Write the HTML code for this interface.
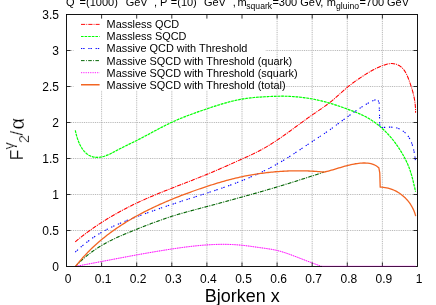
<!DOCTYPE html><html><head><meta charset="utf-8"><style>html,body{margin:0;padding:0;background:#fff;overflow:hidden}svg{display:block;will-change:transform}text{font-family:"Liberation Sans",sans-serif;fill:#000}</style></head><body>
<svg width="436" height="305" viewBox="0 0 436 305">
<rect width="436" height="305" fill="#fff"/>
<path d="M101.60,14.5V266.5 M136.70,14.5V266.5 M171.80,14.5V266.5 M206.90,14.5V266.5 M242.00,14.5V266.5 M277.10,14.5V266.5 M312.20,14.5V266.5 M347.30,14.5V266.5 M382.40,14.5V266.5 M66.5,230.50H417.5 M66.5,194.50H417.5 M66.5,158.50H417.5 M66.5,122.50H417.5 M66.5,86.50H417.5 M66.5,50.50H417.5" stroke="#f0f0f0" stroke-width="0.8" fill="none"/>
<path d="M101.60,14.5V266.5 M136.70,14.5V266.5 M171.80,14.5V266.5 M206.90,14.5V266.5 M242.00,14.5V266.5 M277.10,14.5V266.5 M312.20,14.5V266.5 M347.30,14.5V266.5 M382.40,14.5V266.5 M66.5,230.50H417.5 M66.5,194.50H417.5 M66.5,158.50H417.5 M66.5,122.50H417.5 M66.5,86.50H417.5 M66.5,50.50H417.5" stroke="#949494" stroke-width="0.75" stroke-dasharray="0.8 1.4" fill="none"/>
<rect x="73.5" y="15" width="192" height="75.5" fill="#fff"/>
<path d="M75.24,241.82 L76.40,240.86 L77.56,239.90 L78.72,238.95 L79.89,238.01 L81.07,237.08 L82.25,236.15 L83.44,235.23 L84.64,234.32 L85.84,233.41 L87.04,232.51 L88.25,231.62 L89.47,230.73 L90.69,229.86 L91.92,228.98 L93.15,228.12 L94.39,227.26 L95.63,226.41 L96.88,225.56 L98.13,224.73 L99.39,223.90 L100.65,223.07 L101.91,222.25 L103.18,221.44 L104.46,220.64 L105.74,219.84 L107.02,219.05 L108.31,218.26 L109.60,217.49 L110.90,216.71 L112.20,215.95 L113.50,215.19 L114.81,214.44 L116.12,213.69 L117.44,212.95 L118.76,212.22 L120.08,211.50 L121.41,210.78 L122.74,210.06 L124.07,209.36 L125.41,208.66 L126.75,207.96 L128.09,207.27 L129.43,206.59 L130.78,205.92 L132.13,205.25 L133.49,204.59 L134.85,203.93 L136.21,203.28 L137.57,202.64 L138.93,202.00 L140.30,201.37 L141.67,200.74 L143.04,200.12 L144.42,199.50 L145.80,198.89 L147.18,198.29 L148.56,197.69 L149.94,197.09 L151.32,196.50 L152.71,195.91 L154.10,195.33 L155.49,194.75 L156.88,194.17 L158.27,193.60 L159.66,193.03 L161.06,192.46 L162.45,191.90 L163.85,191.34 L165.25,190.78 L166.65,190.22 L168.05,189.67 L169.45,189.12 L170.85,188.57 L172.25,188.02 L173.66,187.47 L175.06,186.92 L176.46,186.38 L177.87,185.83 L179.27,185.29 L180.67,184.75 L182.08,184.20 L183.48,183.66 L184.88,183.12 L186.29,182.57 L187.69,182.03 L189.09,181.48 L190.49,180.93 L191.90,180.39 L193.30,179.84 L194.70,179.29 L196.10,178.74 L197.50,178.18 L198.89,177.63 L200.29,177.07 L201.69,176.51 L203.08,175.94 L204.47,175.38 L205.86,174.81 L207.25,174.24 L208.64,173.66 L210.03,173.08 L211.42,172.50 L212.80,171.91 L214.18,171.33 L215.57,170.74 L216.95,170.14 L218.33,169.55 L219.71,168.95 L221.09,168.35 L222.47,167.75 L223.84,167.14 L225.22,166.53 L226.60,165.93 L227.97,165.32 L229.35,164.71 L230.72,164.09 L232.10,163.48 L233.47,162.86 L234.85,162.25 L236.23,161.63 L237.60,161.01 L238.98,160.39 L240.35,159.77 L241.73,159.15 L243.11,158.53 L244.48,157.91 L245.86,157.28 L247.23,156.66 L248.61,156.02 L249.98,155.39 L251.34,154.75 L252.71,154.10 L254.07,153.45 L255.42,152.78 L256.77,152.11 L258.12,151.43 L259.45,150.74 L260.78,150.04 L262.11,149.32 L263.42,148.59 L264.73,147.85 L266.03,147.10 L267.32,146.34 L268.61,145.56 L269.89,144.78 L271.17,143.99 L272.43,143.18 L273.70,142.37 L274.96,141.55 L276.21,140.73 L277.46,139.89 L278.71,139.05 L279.95,138.20 L281.18,137.35 L282.42,136.49 L283.65,135.62 L284.88,134.75 L286.10,133.88 L287.32,133.00 L288.55,132.12 L289.77,131.23 L290.98,130.34 L292.20,129.45 L293.42,128.56 L294.63,127.67 L295.84,126.78 L297.06,125.88 L298.27,124.99 L299.49,124.09 L300.71,123.20 L301.92,122.31 L303.14,121.42 L304.36,120.53 L305.58,119.65 L306.81,118.77 L308.03,117.89 L309.26,117.01 L310.50,116.14 L311.73,115.28 L312.97,114.42 L314.21,113.56 L315.46,112.71 L316.70,111.86 L317.95,111.01 L319.19,110.16 L320.43,109.31 L321.67,108.45 L322.90,107.59 L324.13,106.72 L325.36,105.85 L326.57,104.96 L327.78,104.07 L328.98,103.16 L330.17,102.24 L331.34,101.31 L332.51,100.35 L333.66,99.39 L334.80,98.41 L335.93,97.42 L337.06,96.42 L338.18,95.41 L339.30,94.40 L340.42,93.39 L341.54,92.38 L342.67,91.38 L343.80,90.38 L344.93,89.38 L346.07,88.40 L347.23,87.43 L348.39,86.47 L349.57,85.53 L350.75,84.60 L351.95,83.69 L353.16,82.78 L354.37,81.90 L355.60,81.02 L356.83,80.15 L358.07,79.30 L359.31,78.45 L360.56,77.61 L361.82,76.79 L363.07,75.97 L364.34,75.16 L365.60,74.36 L366.88,73.57 L368.16,72.79 L369.44,72.02 L370.74,71.27 L372.05,70.53 L373.37,69.81 L374.70,69.11 L376.05,68.44 L377.42,67.78 L378.80,67.15 L380.21,66.54 L381.64,65.96 L383.08,65.41 L384.55,64.89 L386.04,64.44 L387.54,64.06 L389.04,63.77 L390.54,63.59 L392.03,63.55 L393.51,63.65 L394.98,63.91 L396.41,64.32 L397.79,64.87 L399.12,65.55 L400.37,66.36 L401.54,67.28 L402.61,68.31 L403.58,69.44 L404.48,70.64 L405.30,71.92 L406.05,73.26 L406.74,74.65 L407.38,76.08 L407.99,77.53 L408.56,78.99 L409.10,80.46 L409.63,81.92 L410.14,83.37 L410.64,84.82 L411.11,86.26 L411.57,87.69 L412.01,89.12 L412.43,90.55 L412.82,91.98 L413.19,93.42 L413.54,94.85 L413.87,96.29 L414.17,97.73 L414.44,99.18 L414.69,100.64 L414.91,102.11 L415.10,103.59 L415.26,105.08 L415.38,106.59 L415.48,108.11 L415.54,109.65 L415.58,111.20 L415.57,112.78" stroke="#ff0000" stroke-opacity="0.15" stroke-width="0.95" fill="none" stroke-linejoin="round"/>
<path d="M75.24,241.82 L76.40,240.86 L77.56,239.90 L78.72,238.95 L79.89,238.01 L81.07,237.08 L82.25,236.15 L83.44,235.23 L84.64,234.32 L85.84,233.41 L87.04,232.51 L88.25,231.62 L89.47,230.73 L90.69,229.86 L91.92,228.98 L93.15,228.12 L94.39,227.26 L95.63,226.41 L96.88,225.56 L98.13,224.73 L99.39,223.90 L100.65,223.07 L101.91,222.25 L103.18,221.44 L104.46,220.64 L105.74,219.84 L107.02,219.05 L108.31,218.26 L109.60,217.49 L110.90,216.71 L112.20,215.95 L113.50,215.19 L114.81,214.44 L116.12,213.69 L117.44,212.95 L118.76,212.22 L120.08,211.50 L121.41,210.78 L122.74,210.06 L124.07,209.36 L125.41,208.66 L126.75,207.96 L128.09,207.27 L129.43,206.59 L130.78,205.92 L132.13,205.25 L133.49,204.59 L134.85,203.93 L136.21,203.28 L137.57,202.64 L138.93,202.00 L140.30,201.37 L141.67,200.74 L143.04,200.12 L144.42,199.50 L145.80,198.89 L147.18,198.29 L148.56,197.69 L149.94,197.09 L151.32,196.50 L152.71,195.91 L154.10,195.33 L155.49,194.75 L156.88,194.17 L158.27,193.60 L159.66,193.03 L161.06,192.46 L162.45,191.90 L163.85,191.34 L165.25,190.78 L166.65,190.22 L168.05,189.67 L169.45,189.12 L170.85,188.57 L172.25,188.02 L173.66,187.47 L175.06,186.92 L176.46,186.38 L177.87,185.83 L179.27,185.29 L180.67,184.75 L182.08,184.20 L183.48,183.66 L184.88,183.12 L186.29,182.57 L187.69,182.03 L189.09,181.48 L190.49,180.93 L191.90,180.39 L193.30,179.84 L194.70,179.29 L196.10,178.74 L197.50,178.18 L198.89,177.63 L200.29,177.07 L201.69,176.51 L203.08,175.94 L204.47,175.38 L205.86,174.81 L207.25,174.24 L208.64,173.66 L210.03,173.08 L211.42,172.50 L212.80,171.91 L214.18,171.33 L215.57,170.74 L216.95,170.14 L218.33,169.55 L219.71,168.95 L221.09,168.35 L222.47,167.75 L223.84,167.14 L225.22,166.53 L226.60,165.93 L227.97,165.32 L229.35,164.71 L230.72,164.09 L232.10,163.48 L233.47,162.86 L234.85,162.25 L236.23,161.63 L237.60,161.01 L238.98,160.39 L240.35,159.77 L241.73,159.15 L243.11,158.53 L244.48,157.91 L245.86,157.28 L247.23,156.66 L248.61,156.02 L249.98,155.39 L251.34,154.75 L252.71,154.10 L254.07,153.45 L255.42,152.78 L256.77,152.11 L258.12,151.43 L259.45,150.74 L260.78,150.04 L262.11,149.32 L263.42,148.59 L264.73,147.85 L266.03,147.10 L267.32,146.34 L268.61,145.56 L269.89,144.78 L271.17,143.99 L272.43,143.18 L273.70,142.37 L274.96,141.55 L276.21,140.73 L277.46,139.89 L278.71,139.05 L279.95,138.20 L281.18,137.35 L282.42,136.49 L283.65,135.62 L284.88,134.75 L286.10,133.88 L287.32,133.00 L288.55,132.12 L289.77,131.23 L290.98,130.34 L292.20,129.45 L293.42,128.56 L294.63,127.67 L295.84,126.78 L297.06,125.88 L298.27,124.99 L299.49,124.09 L300.71,123.20 L301.92,122.31 L303.14,121.42 L304.36,120.53 L305.58,119.65 L306.81,118.77 L308.03,117.89 L309.26,117.01 L310.50,116.14 L311.73,115.28 L312.97,114.42 L314.21,113.56 L315.46,112.71 L316.70,111.86 L317.95,111.01 L319.19,110.16 L320.43,109.31 L321.67,108.45 L322.90,107.59 L324.13,106.72 L325.36,105.85 L326.57,104.96 L327.78,104.07 L328.98,103.16 L330.17,102.24 L331.34,101.31 L332.51,100.35 L333.66,99.39 L334.80,98.41 L335.93,97.42 L337.06,96.42 L338.18,95.41 L339.30,94.40 L340.42,93.39 L341.54,92.38 L342.67,91.38 L343.80,90.38 L344.93,89.38 L346.07,88.40 L347.23,87.43 L348.39,86.47 L349.57,85.53 L350.75,84.60 L351.95,83.69 L353.16,82.78 L354.37,81.90 L355.60,81.02 L356.83,80.15 L358.07,79.30 L359.31,78.45 L360.56,77.61 L361.82,76.79 L363.07,75.97 L364.34,75.16 L365.60,74.36 L366.88,73.57 L368.16,72.79 L369.44,72.02 L370.74,71.27 L372.05,70.53 L373.37,69.81 L374.70,69.11 L376.05,68.44 L377.42,67.78 L378.80,67.15 L380.21,66.54 L381.64,65.96 L383.08,65.41 L384.55,64.89 L386.04,64.44 L387.54,64.06 L389.04,63.77 L390.54,63.59 L392.03,63.55 L393.51,63.65 L394.98,63.91 L396.41,64.32 L397.79,64.87 L399.12,65.55 L400.37,66.36 L401.54,67.28 L402.61,68.31 L403.58,69.44 L404.48,70.64 L405.30,71.92 L406.05,73.26 L406.74,74.65 L407.38,76.08 L407.99,77.53 L408.56,78.99 L409.10,80.46 L409.63,81.92 L410.14,83.37 L410.64,84.82 L411.11,86.26 L411.57,87.69 L412.01,89.12 L412.43,90.55 L412.82,91.98 L413.19,93.42 L413.54,94.85 L413.87,96.29 L414.17,97.73 L414.44,99.18 L414.69,100.64 L414.91,102.11 L415.10,103.59 L415.26,105.08 L415.38,106.59 L415.48,108.11 L415.54,109.65 L415.58,111.20 L415.57,112.78" stroke="#ff0000" stroke-width="1.05" fill="none" stroke-linejoin="round" stroke-dasharray="4.2 1.1 0.9 1.1"/>
<path d="M75.29,130.41 L75.56,131.66 L75.87,132.97 L76.21,134.34 L76.60,135.77 L77.04,137.22 L77.52,138.71 L78.05,140.20 L78.63,141.70 L79.26,143.19 L79.94,144.67 L80.68,146.11 L81.48,147.50 L82.34,148.85 L83.25,150.13 L84.23,151.34 L85.28,152.46 L86.39,153.48 L87.57,154.39 L88.83,155.19 L90.14,155.86 L91.50,156.41 L92.89,156.83 L94.31,157.14 L95.74,157.32 L97.17,157.38 L98.60,157.33 L100.03,157.18 L101.47,156.93 L102.90,156.60 L104.33,156.18 L105.75,155.70 L107.18,155.16 L108.60,154.56 L110.02,153.92 L111.43,153.24 L112.84,152.53 L114.24,151.80 L115.64,151.06 L117.03,150.32 L118.41,149.58 L119.79,148.86 L121.15,148.15 L122.52,147.45 L123.87,146.77 L125.22,146.10 L126.56,145.44 L127.90,144.79 L129.23,144.14 L130.56,143.49 L131.89,142.84 L133.22,142.20 L134.54,141.55 L135.86,140.89 L137.19,140.23 L138.51,139.56 L139.83,138.88 L141.15,138.19 L142.48,137.50 L143.80,136.80 L145.12,136.10 L146.45,135.39 L147.78,134.68 L149.10,133.97 L150.43,133.25 L151.76,132.54 L153.10,131.82 L154.43,131.11 L155.77,130.40 L157.10,129.68 L158.44,128.97 L159.79,128.27 L161.13,127.57 L162.48,126.87 L163.83,126.18 L165.18,125.50 L166.54,124.82 L167.90,124.15 L169.26,123.49 L170.62,122.84 L171.99,122.20 L173.37,121.57 L174.74,120.95 L176.12,120.34 L177.51,119.74 L178.90,119.15 L180.29,118.57 L181.68,118.00 L183.08,117.44 L184.47,116.88 L185.88,116.33 L187.28,115.79 L188.69,115.25 L190.10,114.72 L191.51,114.20 L192.92,113.68 L194.34,113.17 L195.76,112.66 L197.18,112.16 L198.60,111.66 L200.02,111.16 L201.45,110.67 L202.87,110.18 L204.30,109.70 L205.73,109.21 L207.16,108.73 L208.59,108.25 L210.02,107.77 L211.45,107.29 L212.89,106.82 L214.32,106.35 L215.76,105.89 L217.20,105.43 L218.64,104.98 L220.08,104.53 L221.53,104.09 L222.97,103.66 L224.42,103.24 L225.87,102.83 L227.33,102.43 L228.78,102.04 L230.24,101.66 L231.70,101.29 L233.16,100.94 L234.63,100.59 L236.10,100.27 L237.57,99.95 L239.04,99.66 L240.52,99.38 L242.00,99.11 L243.49,98.86 L244.98,98.63 L246.47,98.42 L247.96,98.22 L249.46,98.03 L250.96,97.86 L252.46,97.70 L253.96,97.55 L255.46,97.41 L256.96,97.28 L258.47,97.17 L259.98,97.06 L261.48,96.96 L262.99,96.87 L264.49,96.78 L266.00,96.70 L267.51,96.62 L269.01,96.55 L270.51,96.48 L272.02,96.42 L273.52,96.36 L275.02,96.31 L276.52,96.26 L278.02,96.22 L279.52,96.20 L281.03,96.19 L282.53,96.19 L284.04,96.20 L285.54,96.23 L287.05,96.27 L288.55,96.33 L290.06,96.40 L291.57,96.48 L293.07,96.57 L294.58,96.68 L296.08,96.81 L297.59,96.94 L299.09,97.09 L300.59,97.25 L302.09,97.43 L303.59,97.62 L305.09,97.82 L306.59,98.04 L308.08,98.26 L309.57,98.51 L311.06,98.76 L312.55,99.03 L314.03,99.31 L315.51,99.61 L316.99,99.92 L318.47,100.24 L319.94,100.57 L321.41,100.92 L322.87,101.28 L324.33,101.65 L325.78,102.04 L327.24,102.44 L328.68,102.85 L330.12,103.28 L331.56,103.72 L332.99,104.16 L334.42,104.62 L335.85,105.09 L337.27,105.57 L338.69,106.06 L340.12,106.55 L341.53,107.05 L342.95,107.55 L344.37,108.06 L345.79,108.57 L347.21,109.08 L348.63,109.59 L350.05,110.11 L351.48,110.63 L352.89,111.15 L354.31,111.69 L355.72,112.24 L357.12,112.80 L358.52,113.38 L359.91,113.97 L361.29,114.59 L362.65,115.23 L364.01,115.89 L365.35,116.58 L366.67,117.29 L367.98,118.03 L369.28,118.79 L370.56,119.58 L371.83,120.39 L373.08,121.23 L374.32,122.09 L375.54,122.97 L376.74,123.87 L377.93,124.80 L379.10,125.74 L380.26,126.71 L381.40,127.70 L382.52,128.70 L383.63,129.73 L384.72,130.77 L385.79,131.84 L386.84,132.92 L387.88,134.02 L388.90,135.13 L389.91,136.26 L390.89,137.41 L391.86,138.57 L392.82,139.74 L393.75,140.93 L394.67,142.13 L395.58,143.35 L396.46,144.58 L397.33,145.81 L398.18,147.06 L399.02,148.32 L399.84,149.59 L400.64,150.87 L401.43,152.16 L402.19,153.46 L402.95,154.76 L403.68,156.07 L404.40,157.39 L405.10,158.71 L405.78,160.05 L406.44,161.39 L407.07,162.75 L407.68,164.12 L408.26,165.50 L408.81,166.89 L409.34,168.30 L409.85,169.72 L410.33,171.15 L410.79,172.59 L411.23,174.03 L411.66,175.49 L412.06,176.95 L412.45,178.41 L412.83,179.88 L413.20,181.35 L413.56,182.82 L413.90,184.29 L414.24,185.77 L414.58,187.24 L414.91,188.70 L415.24,190.16 L415.57,191.62" stroke="#00ff00" stroke-opacity="0.25" stroke-width="1.03" fill="none" stroke-linejoin="round"/>
<path d="M75.29,130.41 L75.56,131.66 L75.87,132.97 L76.21,134.34 L76.60,135.77 L77.04,137.22 L77.52,138.71 L78.05,140.20 L78.63,141.70 L79.26,143.19 L79.94,144.67 L80.68,146.11 L81.48,147.50 L82.34,148.85 L83.25,150.13 L84.23,151.34 L85.28,152.46 L86.39,153.48 L87.57,154.39 L88.83,155.19 L90.14,155.86 L91.50,156.41 L92.89,156.83 L94.31,157.14 L95.74,157.32 L97.17,157.38 L98.60,157.33 L100.03,157.18 L101.47,156.93 L102.90,156.60 L104.33,156.18 L105.75,155.70 L107.18,155.16 L108.60,154.56 L110.02,153.92 L111.43,153.24 L112.84,152.53 L114.24,151.80 L115.64,151.06 L117.03,150.32 L118.41,149.58 L119.79,148.86 L121.15,148.15 L122.52,147.45 L123.87,146.77 L125.22,146.10 L126.56,145.44 L127.90,144.79 L129.23,144.14 L130.56,143.49 L131.89,142.84 L133.22,142.20 L134.54,141.55 L135.86,140.89 L137.19,140.23 L138.51,139.56 L139.83,138.88 L141.15,138.19 L142.48,137.50 L143.80,136.80 L145.12,136.10 L146.45,135.39 L147.78,134.68 L149.10,133.97 L150.43,133.25 L151.76,132.54 L153.10,131.82 L154.43,131.11 L155.77,130.40 L157.10,129.68 L158.44,128.97 L159.79,128.27 L161.13,127.57 L162.48,126.87 L163.83,126.18 L165.18,125.50 L166.54,124.82 L167.90,124.15 L169.26,123.49 L170.62,122.84 L171.99,122.20 L173.37,121.57 L174.74,120.95 L176.12,120.34 L177.51,119.74 L178.90,119.15 L180.29,118.57 L181.68,118.00 L183.08,117.44 L184.47,116.88 L185.88,116.33 L187.28,115.79 L188.69,115.25 L190.10,114.72 L191.51,114.20 L192.92,113.68 L194.34,113.17 L195.76,112.66 L197.18,112.16 L198.60,111.66 L200.02,111.16 L201.45,110.67 L202.87,110.18 L204.30,109.70 L205.73,109.21 L207.16,108.73 L208.59,108.25 L210.02,107.77 L211.45,107.29 L212.89,106.82 L214.32,106.35 L215.76,105.89 L217.20,105.43 L218.64,104.98 L220.08,104.53 L221.53,104.09 L222.97,103.66 L224.42,103.24 L225.87,102.83 L227.33,102.43 L228.78,102.04 L230.24,101.66 L231.70,101.29 L233.16,100.94 L234.63,100.59 L236.10,100.27 L237.57,99.95 L239.04,99.66 L240.52,99.38 L242.00,99.11 L243.49,98.86 L244.98,98.63 L246.47,98.42 L247.96,98.22 L249.46,98.03 L250.96,97.86 L252.46,97.70 L253.96,97.55 L255.46,97.41 L256.96,97.28 L258.47,97.17 L259.98,97.06 L261.48,96.96 L262.99,96.87 L264.49,96.78 L266.00,96.70 L267.51,96.62 L269.01,96.55 L270.51,96.48 L272.02,96.42 L273.52,96.36 L275.02,96.31 L276.52,96.26 L278.02,96.22 L279.52,96.20 L281.03,96.19 L282.53,96.19 L284.04,96.20 L285.54,96.23 L287.05,96.27 L288.55,96.33 L290.06,96.40 L291.57,96.48 L293.07,96.57 L294.58,96.68 L296.08,96.81 L297.59,96.94 L299.09,97.09 L300.59,97.25 L302.09,97.43 L303.59,97.62 L305.09,97.82 L306.59,98.04 L308.08,98.26 L309.57,98.51 L311.06,98.76 L312.55,99.03 L314.03,99.31 L315.51,99.61 L316.99,99.92 L318.47,100.24 L319.94,100.57 L321.41,100.92 L322.87,101.28 L324.33,101.65 L325.78,102.04 L327.24,102.44 L328.68,102.85 L330.12,103.28 L331.56,103.72 L332.99,104.16 L334.42,104.62 L335.85,105.09 L337.27,105.57 L338.69,106.06 L340.12,106.55 L341.53,107.05 L342.95,107.55 L344.37,108.06 L345.79,108.57 L347.21,109.08 L348.63,109.59 L350.05,110.11 L351.48,110.63 L352.89,111.15 L354.31,111.69 L355.72,112.24 L357.12,112.80 L358.52,113.38 L359.91,113.97 L361.29,114.59 L362.65,115.23 L364.01,115.89 L365.35,116.58 L366.67,117.29 L367.98,118.03 L369.28,118.79 L370.56,119.58 L371.83,120.39 L373.08,121.23 L374.32,122.09 L375.54,122.97 L376.74,123.87 L377.93,124.80 L379.10,125.74 L380.26,126.71 L381.40,127.70 L382.52,128.70 L383.63,129.73 L384.72,130.77 L385.79,131.84 L386.84,132.92 L387.88,134.02 L388.90,135.13 L389.91,136.26 L390.89,137.41 L391.86,138.57 L392.82,139.74 L393.75,140.93 L394.67,142.13 L395.58,143.35 L396.46,144.58 L397.33,145.81 L398.18,147.06 L399.02,148.32 L399.84,149.59 L400.64,150.87 L401.43,152.16 L402.19,153.46 L402.95,154.76 L403.68,156.07 L404.40,157.39 L405.10,158.71 L405.78,160.05 L406.44,161.39 L407.07,162.75 L407.68,164.12 L408.26,165.50 L408.81,166.89 L409.34,168.30 L409.85,169.72 L410.33,171.15 L410.79,172.59 L411.23,174.03 L411.66,175.49 L412.06,176.95 L412.45,178.41 L412.83,179.88 L413.20,181.35 L413.56,182.82 L413.90,184.29 L414.24,185.77 L414.58,187.24 L414.91,188.70 L415.24,190.16 L415.57,191.62" stroke="#00ff00" stroke-width="1.15" fill="none" stroke-linejoin="round" stroke-dasharray="2.6 1"/>
<path d="M75.28,252.10 L76.38,251.06 L77.49,250.03 L78.61,249.02 L79.75,248.02 L80.89,247.02 L82.04,246.04 L83.21,245.08 L84.38,244.12 L85.56,243.18 L86.76,242.26 L87.96,241.34 L89.17,240.44 L90.40,239.55 L91.63,238.68 L92.87,237.82 L94.12,236.97 L95.38,236.14 L96.65,235.33 L97.93,234.52 L99.21,233.74 L100.51,232.96 L101.82,232.21 L103.13,231.46 L104.45,230.73 L105.79,230.02 L107.12,229.32 L108.47,228.63 L109.82,227.96 L111.18,227.29 L112.55,226.64 L113.92,226.00 L115.30,225.37 L116.68,224.75 L118.07,224.14 L119.47,223.54 L120.86,222.95 L122.26,222.36 L123.67,221.79 L125.07,221.22 L126.49,220.66 L127.90,220.10 L129.31,219.55 L130.73,219.00 L132.15,218.46 L133.56,217.92 L134.98,217.39 L136.40,216.86 L137.82,216.33 L139.24,215.81 L140.66,215.28 L142.08,214.76 L143.49,214.24 L144.91,213.73 L146.33,213.22 L147.75,212.70 L149.17,212.20 L150.59,211.69 L152.01,211.19 L153.43,210.68 L154.85,210.19 L156.27,209.69 L157.69,209.19 L159.11,208.70 L160.54,208.21 L161.96,207.72 L163.39,207.24 L164.81,206.75 L166.24,206.27 L167.67,205.79 L169.10,205.31 L170.53,204.83 L171.96,204.36 L173.39,203.89 L174.82,203.42 L176.26,202.95 L177.70,202.48 L179.13,202.02 L180.57,201.55 L182.01,201.09 L183.45,200.63 L184.89,200.16 L186.33,199.70 L187.78,199.24 L189.22,198.78 L190.66,198.32 L192.10,197.86 L193.55,197.40 L194.99,196.94 L196.43,196.48 L197.88,196.02 L199.32,195.55 L200.76,195.09 L202.21,194.62 L203.65,194.16 L205.09,193.69 L206.53,193.22 L207.97,192.75 L209.42,192.28 L210.85,191.80 L212.29,191.33 L213.73,190.85 L215.17,190.37 L216.61,189.88 L218.04,189.40 L219.47,188.91 L220.91,188.42 L222.34,187.92 L223.77,187.42 L225.20,186.92 L226.62,186.41 L228.05,185.90 L229.47,185.39 L230.89,184.87 L232.31,184.35 L233.73,183.82 L235.15,183.29 L236.56,182.76 L237.97,182.22 L239.38,181.67 L240.79,181.12 L242.19,180.57 L243.59,180.00 L244.99,179.44 L246.39,178.87 L247.78,178.29 L249.17,177.70 L250.56,177.11 L251.94,176.51 L253.33,175.91 L254.70,175.30 L256.08,174.68 L257.45,174.06 L258.82,173.43 L260.18,172.79 L261.55,172.15 L262.90,171.49 L264.26,170.83 L265.61,170.16 L266.96,169.49 L268.30,168.80 L269.64,168.11 L270.97,167.41 L272.30,166.70 L273.63,165.98 L274.95,165.25 L276.27,164.51 L277.58,163.77 L278.89,163.01 L280.19,162.25 L281.49,161.47 L282.79,160.69 L284.08,159.91 L285.37,159.11 L286.66,158.31 L287.94,157.51 L289.22,156.70 L290.50,155.88 L291.77,155.06 L293.04,154.23 L294.31,153.40 L295.58,152.57 L296.85,151.74 L298.11,150.90 L299.38,150.06 L300.64,149.22 L301.90,148.38 L303.16,147.54 L304.42,146.70 L305.68,145.86 L306.94,145.02 L308.20,144.18 L309.46,143.34 L310.72,142.50 L311.98,141.67 L313.24,140.84 L314.51,140.01 L315.77,139.19 L317.03,138.36 L318.29,137.54 L319.55,136.71 L320.81,135.89 L322.07,135.06 L323.32,134.22 L324.57,133.39 L325.82,132.54 L327.07,131.69 L328.31,130.84 L329.55,129.97 L330.78,129.10 L332.01,128.23 L333.24,127.34 L334.46,126.45 L335.68,125.56 L336.90,124.67 L338.12,123.77 L339.33,122.87 L340.55,121.96 L341.77,121.06 L342.98,120.16 L344.20,119.25 L345.42,118.35 L346.64,117.46 L347.86,116.56 L349.08,115.67 L350.31,114.78 L351.54,113.90 L352.77,113.02 L354.01,112.15 L355.25,111.29 L356.50,110.43 L357.75,109.58 L359.01,108.75 L360.27,107.92 L361.54,107.10 L362.82,106.30 L364.10,105.51 L365.39,104.73 L366.69,103.97 L368.01,103.23 L369.34,102.52 L370.68,101.83 L372.04,101.19 L373.42,100.58 L374.82,100.01 L376.25,99.48 L377.70,99.01 L377.70,99.03 L379.17,103.06 L379.17,103.06 L379.87,127.54 L379.87,127.60 L381.35,127.56 L382.88,127.48 L384.44,127.38 L386.03,127.29 L387.63,127.20 L389.24,127.16 L390.84,127.16 L392.44,127.23 L394.01,127.40 L395.55,127.66 L397.05,128.05 L398.51,128.55 L399.92,129.17 L401.28,129.89 L402.58,130.71 L403.82,131.63 L404.99,132.63 L406.09,133.71 L407.12,134.86 L408.06,136.08 L408.93,137.36 L409.71,138.70 L410.43,140.08 L411.08,141.51 L411.67,142.98 L412.21,144.47 L412.69,146.00 L413.12,147.54 L413.51,149.09 L413.86,150.66 L414.17,152.22 L414.46,153.78 L414.71,155.33 L414.95,156.87 L415.17,158.38 L415.38,159.87 L415.59,161.32" stroke="#0000ff" stroke-width="1.1" fill="none" stroke-linejoin="round" stroke-dasharray="1.3 0.9 1.4 3.7"/>
<path d="M75.34,266.62 L76.40,265.50 L77.46,264.40 L78.54,263.31 L79.63,262.24 L80.73,261.18 L81.84,260.14 L82.97,259.12 L84.10,258.11 L85.25,257.12 L86.41,256.14 L87.59,255.19 L88.77,254.24 L89.97,253.32 L91.17,252.41 L92.39,251.51 L93.62,250.63 L94.86,249.77 L96.11,248.93 L97.37,248.10 L98.64,247.29 L99.92,246.49 L101.21,245.71 L102.51,244.94 L103.82,244.19 L105.13,243.45 L106.46,242.73 L107.79,242.02 L109.13,241.32 L110.48,240.63 L111.84,239.96 L113.20,239.29 L114.57,238.64 L115.94,238.00 L117.32,237.36 L118.70,236.73 L120.09,236.12 L121.49,235.51 L122.88,234.90 L124.28,234.31 L125.69,233.72 L127.09,233.13 L128.50,232.55 L129.91,231.97 L131.33,231.40 L132.74,230.83 L134.15,230.26 L135.57,229.70 L136.98,229.14 L138.40,228.57 L139.82,228.01 L141.23,227.45 L142.65,226.90 L144.06,226.34 L145.48,225.79 L146.90,225.24 L148.31,224.69 L149.73,224.15 L151.15,223.61 L152.57,223.07 L153.99,222.54 L155.41,222.01 L156.84,221.48 L158.26,220.96 L159.69,220.45 L161.11,219.94 L162.54,219.43 L163.97,218.94 L165.40,218.44 L166.84,217.96 L168.27,217.48 L169.71,217.00 L171.15,216.54 L172.59,216.08 L174.04,215.63 L175.48,215.18 L176.93,214.74 L178.38,214.31 L179.84,213.88 L181.29,213.46 L182.74,213.04 L184.20,212.63 L185.66,212.22 L187.12,211.82 L188.58,211.42 L190.04,211.02 L191.51,210.63 L192.97,210.23 L194.43,209.84 L195.90,209.46 L197.36,209.07 L198.83,208.68 L200.30,208.30 L201.76,207.91 L203.23,207.53 L204.70,207.14 L206.16,206.76 L207.63,206.37 L209.10,205.98 L210.56,205.59 L212.03,205.20 L213.49,204.81 L214.96,204.42 L216.42,204.02 L217.89,203.63 L219.35,203.23 L220.82,202.83 L222.28,202.44 L223.74,202.04 L225.21,201.64 L226.67,201.24 L228.13,200.83 L229.60,200.43 L231.06,200.03 L232.52,199.63 L233.98,199.22 L235.45,198.82 L236.91,198.41 L238.37,198.01 L239.83,197.60 L241.29,197.20 L242.75,196.79 L244.22,196.38 L245.68,195.98 L247.14,195.57 L248.60,195.16 L250.06,194.75 L251.52,194.34 L252.98,193.93 L254.44,193.52 L255.90,193.11 L257.36,192.70 L258.81,192.28 L260.27,191.87 L261.73,191.45 L263.19,191.03 L264.64,190.61 L266.10,190.19 L267.56,189.77 L269.01,189.34 L270.47,188.91 L271.92,188.49 L273.38,188.06 L274.83,187.62 L276.28,187.19 L277.73,186.75 L279.19,186.32 L280.64,185.88 L282.09,185.44 L283.54,184.99 L284.99,184.55 L286.44,184.10 L287.89,183.66 L289.33,183.21 L290.78,182.76 L292.23,182.31 L293.68,181.86 L295.12,181.40 L296.57,180.95 L298.02,180.49 L299.46,180.03 L300.91,179.57 L302.35,179.11 L303.80,178.65 L305.24,178.19 L306.68,177.73 L308.13,177.26 L309.57,176.80 L311.01,176.33 L312.46,175.86 L313.90,175.39 L315.34,174.93 L316.78,174.46 L318.23,173.99 L319.67,173.51 L321.11,173.04 L322.55,172.57 L323.99,172.10" stroke="#006400" stroke-opacity="0.2" stroke-width="0.97" fill="none" stroke-linejoin="round"/>
<path d="M75.34,266.62 L76.40,265.50 L77.46,264.40 L78.54,263.31 L79.63,262.24 L80.73,261.18 L81.84,260.14 L82.97,259.12 L84.10,258.11 L85.25,257.12 L86.41,256.14 L87.59,255.19 L88.77,254.24 L89.97,253.32 L91.17,252.41 L92.39,251.51 L93.62,250.63 L94.86,249.77 L96.11,248.93 L97.37,248.10 L98.64,247.29 L99.92,246.49 L101.21,245.71 L102.51,244.94 L103.82,244.19 L105.13,243.45 L106.46,242.73 L107.79,242.02 L109.13,241.32 L110.48,240.63 L111.84,239.96 L113.20,239.29 L114.57,238.64 L115.94,238.00 L117.32,237.36 L118.70,236.73 L120.09,236.12 L121.49,235.51 L122.88,234.90 L124.28,234.31 L125.69,233.72 L127.09,233.13 L128.50,232.55 L129.91,231.97 L131.33,231.40 L132.74,230.83 L134.15,230.26 L135.57,229.70 L136.98,229.14 L138.40,228.57 L139.82,228.01 L141.23,227.45 L142.65,226.90 L144.06,226.34 L145.48,225.79 L146.90,225.24 L148.31,224.69 L149.73,224.15 L151.15,223.61 L152.57,223.07 L153.99,222.54 L155.41,222.01 L156.84,221.48 L158.26,220.96 L159.69,220.45 L161.11,219.94 L162.54,219.43 L163.97,218.94 L165.40,218.44 L166.84,217.96 L168.27,217.48 L169.71,217.00 L171.15,216.54 L172.59,216.08 L174.04,215.63 L175.48,215.18 L176.93,214.74 L178.38,214.31 L179.84,213.88 L181.29,213.46 L182.74,213.04 L184.20,212.63 L185.66,212.22 L187.12,211.82 L188.58,211.42 L190.04,211.02 L191.51,210.63 L192.97,210.23 L194.43,209.84 L195.90,209.46 L197.36,209.07 L198.83,208.68 L200.30,208.30 L201.76,207.91 L203.23,207.53 L204.70,207.14 L206.16,206.76 L207.63,206.37 L209.10,205.98 L210.56,205.59 L212.03,205.20 L213.49,204.81 L214.96,204.42 L216.42,204.02 L217.89,203.63 L219.35,203.23 L220.82,202.83 L222.28,202.44 L223.74,202.04 L225.21,201.64 L226.67,201.24 L228.13,200.83 L229.60,200.43 L231.06,200.03 L232.52,199.63 L233.98,199.22 L235.45,198.82 L236.91,198.41 L238.37,198.01 L239.83,197.60 L241.29,197.20 L242.75,196.79 L244.22,196.38 L245.68,195.98 L247.14,195.57 L248.60,195.16 L250.06,194.75 L251.52,194.34 L252.98,193.93 L254.44,193.52 L255.90,193.11 L257.36,192.70 L258.81,192.28 L260.27,191.87 L261.73,191.45 L263.19,191.03 L264.64,190.61 L266.10,190.19 L267.56,189.77 L269.01,189.34 L270.47,188.91 L271.92,188.49 L273.38,188.06 L274.83,187.62 L276.28,187.19 L277.73,186.75 L279.19,186.32 L280.64,185.88 L282.09,185.44 L283.54,184.99 L284.99,184.55 L286.44,184.10 L287.89,183.66 L289.33,183.21 L290.78,182.76 L292.23,182.31 L293.68,181.86 L295.12,181.40 L296.57,180.95 L298.02,180.49 L299.46,180.03 L300.91,179.57 L302.35,179.11 L303.80,178.65 L305.24,178.19 L306.68,177.73 L308.13,177.26 L309.57,176.80 L311.01,176.33 L312.46,175.86 L313.90,175.39 L315.34,174.93 L316.78,174.46 L318.23,173.99 L319.67,173.51 L321.11,173.04 L322.55,172.57 L323.99,172.10" stroke="#006400" stroke-width="1.08" fill="none" stroke-linejoin="round" stroke-dasharray="3.6 1.4 0.8 1.4"/>
<path d="M75.26,266.44 L76.75,266.17 L78.25,265.90 L79.74,265.62 L81.23,265.35 L82.73,265.07 L84.22,264.79 L85.71,264.51 L87.20,264.24 L88.69,263.96 L90.18,263.68 L91.67,263.39 L93.16,263.11 L94.65,262.83 L96.14,262.55 L97.63,262.27 L99.12,261.98 L100.61,261.70 L102.10,261.42 L103.59,261.13 L105.08,260.85 L106.57,260.57 L108.06,260.28 L109.55,260.00 L111.04,259.72 L112.52,259.43 L114.01,259.15 L115.50,258.87 L116.99,258.59 L118.48,258.31 L119.97,258.02 L121.46,257.74 L122.95,257.46 L124.44,257.18 L125.92,256.91 L127.41,256.63 L128.90,256.35 L130.39,256.07 L131.88,255.80 L133.37,255.52 L134.86,255.25 L136.35,254.98 L137.84,254.71 L139.34,254.44 L140.83,254.17 L142.32,253.90 L143.81,253.64 L145.30,253.37 L146.80,253.11 L148.29,252.85 L149.78,252.59 L151.28,252.33 L152.77,252.08 L154.27,251.82 L155.76,251.57 L157.26,251.32 L158.75,251.07 L160.25,250.83 L161.75,250.58 L163.25,250.34 L164.74,250.10 L166.24,249.86 L167.74,249.63 L169.24,249.40 L170.74,249.16 L172.25,248.94 L173.75,248.71 L175.25,248.49 L176.75,248.27 L178.26,248.05 L179.76,247.84 L181.27,247.63 L182.77,247.43 L184.28,247.23 L185.79,247.03 L187.29,246.84 L188.80,246.66 L190.31,246.48 L191.82,246.30 L193.33,246.13 L194.84,245.97 L196.35,245.81 L197.86,245.66 L199.37,245.52 L200.88,245.38 L202.39,245.25 L203.90,245.13 L205.41,245.02 L206.92,244.91 L208.43,244.81 L209.94,244.72 L211.46,244.64 L212.97,244.57 L214.48,244.51 L215.99,244.45 L217.50,244.41 L219.02,244.38 L220.53,244.35 L222.04,244.34 L223.55,244.34 L225.07,244.35 L226.58,244.37 L228.09,244.40 L229.60,244.44 L231.11,244.50 L232.63,244.56 L234.14,244.64 L235.65,244.73 L237.16,244.84 L238.67,244.96 L240.18,245.09 L241.69,245.23 L243.20,245.39 L244.71,245.56 L246.22,245.74 L247.73,245.93 L249.24,246.13 L250.75,246.34 L252.26,246.55 L253.76,246.76 L255.27,246.98 L256.78,247.20 L258.29,247.41 L259.79,247.62 L261.30,247.83 L262.81,248.04 L264.31,248.24 L265.81,248.45 L267.31,248.67 L268.81,248.90 L270.30,249.14 L271.79,249.39 L273.28,249.67 L274.76,249.96 L276.23,250.28 L277.70,250.62 L279.16,251.00 L280.62,251.39 L282.07,251.82 L283.51,252.26 L284.95,252.72 L286.39,253.20 L287.82,253.70 L289.25,254.21 L290.68,254.72 L292.10,255.25 L293.53,255.79 L294.95,256.33 L296.37,256.87 L297.79,257.41 L299.20,257.96 L300.62,258.51 L302.04,259.05 L303.46,259.60 L304.87,260.15 L306.29,260.69 L307.71,261.23 L309.13,261.77 L310.54,262.31 L311.96,262.85 L313.38,263.38 L314.80,263.91 L316.23,264.43 L317.65,264.95 L319.08,265.46 L320.50,265.97 L321.93,266.47" stroke="#ff00ff" stroke-opacity="0.4" stroke-width="0.85" fill="none" stroke-linejoin="round"/>
<path d="M75.26,266.44 L76.75,266.17 L78.25,265.90 L79.74,265.62 L81.23,265.35 L82.73,265.07 L84.22,264.79 L85.71,264.51 L87.20,264.24 L88.69,263.96 L90.18,263.68 L91.67,263.39 L93.16,263.11 L94.65,262.83 L96.14,262.55 L97.63,262.27 L99.12,261.98 L100.61,261.70 L102.10,261.42 L103.59,261.13 L105.08,260.85 L106.57,260.57 L108.06,260.28 L109.55,260.00 L111.04,259.72 L112.52,259.43 L114.01,259.15 L115.50,258.87 L116.99,258.59 L118.48,258.31 L119.97,258.02 L121.46,257.74 L122.95,257.46 L124.44,257.18 L125.92,256.91 L127.41,256.63 L128.90,256.35 L130.39,256.07 L131.88,255.80 L133.37,255.52 L134.86,255.25 L136.35,254.98 L137.84,254.71 L139.34,254.44 L140.83,254.17 L142.32,253.90 L143.81,253.64 L145.30,253.37 L146.80,253.11 L148.29,252.85 L149.78,252.59 L151.28,252.33 L152.77,252.08 L154.27,251.82 L155.76,251.57 L157.26,251.32 L158.75,251.07 L160.25,250.83 L161.75,250.58 L163.25,250.34 L164.74,250.10 L166.24,249.86 L167.74,249.63 L169.24,249.40 L170.74,249.16 L172.25,248.94 L173.75,248.71 L175.25,248.49 L176.75,248.27 L178.26,248.05 L179.76,247.84 L181.27,247.63 L182.77,247.43 L184.28,247.23 L185.79,247.03 L187.29,246.84 L188.80,246.66 L190.31,246.48 L191.82,246.30 L193.33,246.13 L194.84,245.97 L196.35,245.81 L197.86,245.66 L199.37,245.52 L200.88,245.38 L202.39,245.25 L203.90,245.13 L205.41,245.02 L206.92,244.91 L208.43,244.81 L209.94,244.72 L211.46,244.64 L212.97,244.57 L214.48,244.51 L215.99,244.45 L217.50,244.41 L219.02,244.38 L220.53,244.35 L222.04,244.34 L223.55,244.34 L225.07,244.35 L226.58,244.37 L228.09,244.40 L229.60,244.44 L231.11,244.50 L232.63,244.56 L234.14,244.64 L235.65,244.73 L237.16,244.84 L238.67,244.96 L240.18,245.09 L241.69,245.23 L243.20,245.39 L244.71,245.56 L246.22,245.74 L247.73,245.93 L249.24,246.13 L250.75,246.34 L252.26,246.55 L253.76,246.76 L255.27,246.98 L256.78,247.20 L258.29,247.41 L259.79,247.62 L261.30,247.83 L262.81,248.04 L264.31,248.24 L265.81,248.45 L267.31,248.67 L268.81,248.90 L270.30,249.14 L271.79,249.39 L273.28,249.67 L274.76,249.96 L276.23,250.28 L277.70,250.62 L279.16,251.00 L280.62,251.39 L282.07,251.82 L283.51,252.26 L284.95,252.72 L286.39,253.20 L287.82,253.70 L289.25,254.21 L290.68,254.72 L292.10,255.25 L293.53,255.79 L294.95,256.33 L296.37,256.87 L297.79,257.41 L299.20,257.96 L300.62,258.51 L302.04,259.05 L303.46,259.60 L304.87,260.15 L306.29,260.69 L307.71,261.23 L309.13,261.77 L310.54,262.31 L311.96,262.85 L313.38,263.38 L314.80,263.91 L316.23,264.43 L317.65,264.95 L319.08,265.46 L320.50,265.97 L321.93,266.47" stroke="#ff00ff" stroke-width="0.95" fill="none" stroke-linejoin="round" stroke-dasharray="1.2 1.1"/>
<path d="M75.34,266.59 L76.28,265.40 L77.24,264.22 L78.20,263.04 L79.17,261.88 L80.15,260.72 L81.14,259.57 L82.14,258.43 L83.15,257.30 L84.17,256.18 L85.20,255.07 L86.24,253.97 L87.28,252.87 L88.34,251.79 L89.40,250.71 L90.47,249.65 L91.56,248.59 L92.65,247.55 L93.74,246.51 L94.85,245.49 L95.97,244.47 L97.09,243.47 L98.22,242.47 L99.36,241.48 L100.51,240.50 L101.67,239.54 L102.83,238.58 L104.00,237.63 L105.18,236.69 L106.37,235.76 L107.56,234.84 L108.76,233.92 L109.97,233.02 L111.18,232.13 L112.40,231.24 L113.63,230.36 L114.86,229.49 L116.10,228.63 L117.35,227.78 L118.60,226.94 L119.86,226.10 L121.13,225.27 L122.40,224.45 L123.67,223.64 L124.95,222.84 L126.24,222.04 L127.53,221.25 L128.83,220.47 L130.13,219.70 L131.44,218.94 L132.75,218.18 L134.07,217.43 L135.39,216.68 L136.72,215.95 L138.05,215.22 L139.38,214.50 L140.72,213.78 L142.07,213.08 L143.41,212.37 L144.76,211.68 L146.12,210.99 L147.47,210.31 L148.83,209.64 L150.20,208.97 L151.57,208.31 L152.94,207.65 L154.31,207.00 L155.68,206.36 L157.06,205.72 L158.44,205.09 L159.83,204.46 L161.21,203.84 L162.60,203.23 L163.99,202.62 L165.38,202.02 L166.78,201.42 L168.17,200.83 L169.57,200.24 L170.97,199.66 L172.37,199.08 L173.77,198.51 L175.17,197.94 L176.57,197.38 L177.98,196.82 L179.38,196.27 L180.79,195.72 L182.20,195.18 L183.61,194.64 L185.02,194.11 L186.43,193.58 L187.85,193.05 L189.26,192.53 L190.68,192.02 L192.10,191.50 L193.52,191.00 L194.94,190.49 L196.36,189.99 L197.79,189.50 L199.21,189.01 L200.64,188.52 L202.07,188.03 L203.50,187.55 L204.93,187.08 L206.36,186.61 L207.80,186.14 L209.24,185.67 L210.68,185.21 L212.12,184.75 L213.56,184.30 L215.00,183.85 L216.45,183.41 L217.90,182.97 L219.34,182.54 L220.80,182.12 L222.25,181.69 L223.70,181.28 L225.16,180.87 L226.62,180.47 L228.08,180.07 L229.54,179.68 L231.00,179.30 L232.47,178.93 L233.93,178.56 L235.40,178.21 L236.87,177.86 L238.35,177.51 L239.82,177.18 L241.30,176.86 L242.78,176.54 L244.26,176.23 L245.74,175.94 L247.23,175.65 L248.71,175.37 L250.20,175.10 L251.69,174.84 L253.18,174.58 L254.67,174.34 L256.17,174.10 L257.66,173.87 L259.16,173.65 L260.66,173.44 L262.16,173.24 L263.66,173.05 L265.16,172.86 L266.66,172.68 L268.16,172.51 L269.67,172.34 L271.17,172.19 L272.68,172.04 L274.18,171.90 L275.69,171.77 L277.20,171.64 L278.71,171.53 L280.22,171.42 L281.72,171.32 L283.23,171.23 L284.74,171.15 L286.25,171.07 L287.76,171.00 L289.27,170.95 L290.79,170.90 L292.30,170.86 L293.81,170.83 L295.32,170.80 L296.83,170.79 L298.34,170.78 L299.85,170.79 L301.36,170.80 L302.87,170.82 L304.39,170.86 L305.90,170.90 L307.41,170.95 L308.92,171.01 L310.43,171.08 L311.94,171.16 L313.44,171.25 L314.95,171.35 L316.46,171.46 L317.97,171.58 L319.47,171.70 L320.98,171.84 L322.48,171.99 L323.99,172.15 L324.02,172.08 L325.49,171.76 L326.96,171.41 L328.43,171.03 L329.91,170.63 L331.39,170.22 L332.88,169.79 L334.37,169.35 L335.86,168.90 L337.36,168.45 L338.86,167.99 L340.36,167.54 L341.86,167.09 L343.37,166.65 L344.89,166.22 L346.40,165.80 L347.92,165.40 L349.44,165.02 L350.96,164.66 L352.49,164.33 L354.02,164.03 L355.55,163.76 L357.09,163.53 L358.63,163.33 L360.17,163.18 L361.71,163.07 L363.25,163.01 L364.80,163.00 L366.35,163.06 L367.88,163.18 L369.40,163.38 L370.90,163.68 L372.37,164.08 L373.79,164.60 L375.18,165.24 L376.51,166.02 L377.77,166.95 L378.98,168.05 L378.89,168.15 L379.77,172.90 L379.77,172.90 L380.19,187.08 L380.14,187.13 L381.77,187.20 L383.39,187.33 L384.98,187.54 L386.56,187.83 L388.11,188.18 L389.65,188.60 L391.15,189.09 L392.63,189.64 L394.09,190.25 L395.51,190.93 L396.91,191.66 L398.27,192.46 L399.59,193.30 L400.88,194.21 L402.13,195.16 L403.35,196.17 L404.52,197.22 L405.65,198.32 L406.73,199.47 L407.77,200.66 L408.76,201.89 L409.71,203.17 L410.60,204.48 L411.44,205.83 L412.22,207.21 L412.95,208.63 L413.62,210.07 L414.23,211.55 L414.79,213.06 L415.27,214.59 L415.70,216.14" stroke="#f26522" stroke-width="1.3" fill="none" stroke-linejoin="round"/>
<rect x="66.5" y="14.5" width="351.0" height="252.0" fill="none" stroke="#000" stroke-width="0.92"/>
<path d="M101.60,266.5v-4.1M101.60,14.5v4.1 M136.70,266.5v-4.1M136.70,14.5v4.1 M171.80,266.5v-4.1M171.80,14.5v4.1 M206.90,266.5v-4.1M206.90,14.5v4.1 M242.00,266.5v-4.1M242.00,14.5v4.1 M277.10,266.5v-4.1M277.10,14.5v4.1 M312.20,266.5v-4.1M312.20,14.5v4.1 M347.30,266.5v-4.1M347.30,14.5v4.1 M382.40,266.5v-4.1M382.40,14.5v4.1 M66.5,230.50h4.1M417.5,230.50h-4.1 M66.5,194.50h4.1M417.5,194.50h-4.1 M66.5,158.50h4.1M417.5,158.50h-4.1 M66.5,122.50h4.1M417.5,122.50h-4.1 M66.5,86.50h4.1M417.5,86.50h-4.1 M66.5,50.50h4.1M417.5,50.50h-4.1" stroke="#111" stroke-width="0.85" fill="none"/>
<path d="M321.92,266.15H415.75" stroke="#ff00ff" stroke-opacity="0.45" stroke-width="0.8" fill="none"/>
<text x="68.00" y="282.8" font-size="12" text-anchor="middle">0</text>
<text x="103.10" y="282.8" font-size="12" text-anchor="middle">0.1</text>
<text x="138.20" y="282.8" font-size="12" text-anchor="middle">0.2</text>
<text x="173.30" y="282.8" font-size="12" text-anchor="middle">0.3</text>
<text x="208.40" y="282.8" font-size="12" text-anchor="middle">0.4</text>
<text x="243.50" y="282.8" font-size="12" text-anchor="middle">0.5</text>
<text x="278.60" y="282.8" font-size="12" text-anchor="middle">0.6</text>
<text x="313.70" y="282.8" font-size="12" text-anchor="middle">0.7</text>
<text x="348.80" y="282.8" font-size="12" text-anchor="middle">0.8</text>
<text x="383.90" y="282.8" font-size="12" text-anchor="middle">0.9</text>
<text x="419.00" y="282.8" font-size="12" text-anchor="middle">1</text>
<text x="59" y="270.80" font-size="12" text-anchor="end">0</text>
<text x="59" y="234.80" font-size="12" text-anchor="end">0.5</text>
<text x="59" y="198.80" font-size="12" text-anchor="end">1</text>
<text x="59" y="162.80" font-size="12" text-anchor="end">1.5</text>
<text x="59" y="126.80" font-size="12" text-anchor="end">2</text>
<text x="59" y="90.80" font-size="12" text-anchor="end">2.5</text>
<text x="59" y="54.80" font-size="12" text-anchor="end">3</text>
<text x="59" y="18.80" font-size="12" text-anchor="end">3.5</text>
<path d="M81,24.40H99.6" stroke="#ff0000" stroke-width="0.95" fill="none" stroke-dasharray="4.2 1.1 0.9 1.1"/>
<text x="106.6" y="28.30" font-size="10.9">Massless QCD</text>
<path d="M81,36.47H99.6" stroke="#00ff00" stroke-width="1.05" fill="none" stroke-dasharray="2.6 1"/>
<text x="106.6" y="40.37" font-size="10.9">Massless SQCD</text>
<path d="M81,48.54H99.6" stroke="#0000ff" stroke-width="1.00" fill="none" stroke-dasharray="1.3 0.9 1.4 3.7"/>
<text x="106.6" y="52.44" font-size="10.9">Massive QCD with Threshold</text>
<path d="M81,60.61H99.6" stroke="#006400" stroke-width="0.98" fill="none" stroke-dasharray="3.6 1.4 0.8 1.4"/>
<text x="106.6" y="64.51" font-size="10.9">Massive SQCD with Threshold (quark)</text>
<path d="M81,72.68H99.6" stroke="#ff00ff" stroke-width="0.90" fill="none" stroke-dasharray="1.2 1.1"/>
<text x="106.6" y="76.58" font-size="10.9">Massive SQCD with Threshold (squark)</text>
<path d="M81,84.75H99.6" stroke="#f26522" stroke-width="1.50" fill="none"/>
<text x="106.6" y="88.65" font-size="10.9">Massive SQCD with Threshold (total)</text>
<text x="66.1" y="6.0" font-size="11">Q</text>
<text x="79.6" y="6.0" font-size="11">=(1000)</text>
<text x="125.7" y="6.0" font-size="11">GeV</text>
<text x="153.9" y="6.0" font-size="11">,</text>
<text x="160.0" y="6.0" font-size="11">P</text>
<text x="170.8" y="6.0" font-size="11">=(10)</text>
<text x="203.9" y="6.0" font-size="11">GeV</text>
<text x="232.8" y="6.0" font-size="11">,</text>
<text x="237.4" y="6.0" font-size="11">m</text>
<text x="246.3" y="9.2" font-size="8.6">squark</text>
<text x="272.4" y="6.0" font-size="11">=300</text>
<text x="300.2" y="6.0" font-size="11">GeV</text>
<text x="320.3" y="6.0" font-size="11">,</text>
<text x="326.7" y="6.0" font-size="11">m</text>
<text x="336.0" y="9.2" font-size="8.6">gluino</text>
<text x="359.4" y="6.0" font-size="11">=700</text>
<text x="387.0" y="6.0" font-size="11">GeV</text>
<text transform="translate(242.3,301.7) scale(1,0.97)" x="0" y="0" font-size="18" text-anchor="middle">Bjorken x</text>
<g transform="translate(23.0,160.4) rotate(-90)"><text x="0" y="0" font-size="18" xml:space="preserve" stroke="#fff" stroke-width="0.3">F<tspan dy="-9" font-size="14.4">γ</tspan><tspan dy="14.7" dx="-0.8" font-size="14.4">2</tspan><tspan dy="-5.7" dx="-0.8" font-size="18">/</tspan><tspan dx="1.2" dy="0.6" font-size="20">α</tspan></text></g>
</svg></body></html>
